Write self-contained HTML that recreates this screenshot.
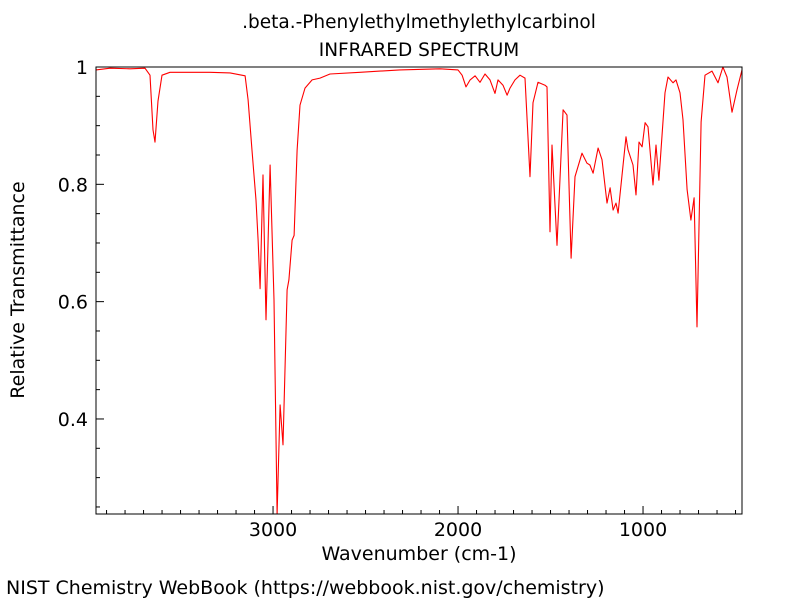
<!DOCTYPE html>
<html><head><meta charset="utf-8"><style>
body{margin:0;background:#fff;width:800px;height:600px;overflow:hidden;font-family:"DejaVu Sans","Liberation Sans",sans-serif}
</style></head><body>
<svg id="chart" width="800" height="600" xmlns="http://www.w3.org/2000/svg" font-family="DejaVu Sans, Liberation Sans, sans-serif">
<text x="419" y="28" font-size="18.5" text-anchor="middle">.beta.-Phenylethylmethylethylcarbinol</text>
<text x="419" y="56" font-size="18.5" text-anchor="middle">INFRARED SPECTRUM</text>
<g id="axes"></g>
<text x="419" y="560" font-size="19" text-anchor="middle">Wavenumber (cm-1)</text>
<text transform="translate(24,290) rotate(-90)" font-size="19" text-anchor="middle">Relative Transmittance</text>
<text x="6" y="594" font-size="19">NIST Chemistry WebBook (https://webbook.nist.gov/chemistry)</text>
</svg>
<script>
const wavenumbers=[3957,3881,3773,3692,3665,3649,3638,3622,3600,3557,3449,3341,3232,3151,3135,3114,3092,3081,3070,3054,3038,3016,2995,2978,2962,2946,2924,2914,2897,2886,2870,2854,2827,2789,2746,2692,2530,2314,2097,2000,1978,1957,1935,1908,1881,1854,1827,1800,1784,1757,1735,1719,1692,1665,1638,1611,1595,1568,1530,1519,1503,1492,1465,1432,1411,1389,1368,1330,1303,1287,1270,1243,1222,1195,1178,1162,1146,1135,1092,1081,1054,1038,1022,1005,989,973,946,930,914,881,865,838,822,800,784,762,741,724,708,686,665,627,595,568,546,519,492,465];
const transmittance=[0.995,0.998,0.997,0.998,0.986,0.893,0.872,0.942,0.986,0.991,0.991,0.991,0.990,0.985,0.944,0.858,0.773,0.705,0.622,0.816,0.569,0.833,0.603,0.238,0.424,0.356,0.620,0.637,0.705,0.713,0.858,0.935,0.964,0.978,0.981,0.988,0.991,0.995,0.997,0.995,0.986,0.966,0.978,0.985,0.974,0.988,0.978,0.955,0.978,0.969,0.952,0.964,0.978,0.986,0.981,0.813,0.939,0.974,0.969,0.966,0.719,0.867,0.696,0.927,0.918,0.674,0.813,0.853,0.836,0.833,0.819,0.862,0.842,0.768,0.794,0.756,0.768,0.751,0.881,0.859,0.833,0.782,0.872,0.864,0.905,0.898,0.799,0.867,0.807,0.956,0.983,0.973,0.978,0.956,0.910,0.791,0.739,0.777,0.557,0.906,0.986,0.993,0.973,1.000,0.983,0.923,0.961,0.995];
const xTickValues=[3000,2000,1000];
const xTickLabels=["3000","2000","1000"];
const yTickValues=[1,0.8,0.6,0.4];
const yTickLabels=["1","0.8","0.6","0.4"];
const X0=96,X1=742,Y0=67,Y1=514,WMAX=3957,WMIN=465,TMIN=0.238,TMAX=1.0;
const sx=w=>X0+(WMAX-w)/(WMAX-WMIN)*(X1-X0);
const sy=t=>Y1-(t-TMIN)/(TMAX-TMIN)*(Y1-Y0);
const NS="http://www.w3.org/2000/svg";
const g=document.getElementById('axes');
function mk(tag,attrs){const e=document.createElementNS(NS,tag);for(const k in attrs)e.setAttribute(k,attrs[k]);g.appendChild(e);return e;}
let d=wavenumbers.map((w,i)=>(i?'L':'M')+sx(w).toFixed(1)+','+sy(transmittance[i]).toFixed(1)).join('');
const line=mk('path',{d:d,fill:'none',stroke:'#ff0000','stroke-width':1.1,'stroke-linejoin':'round'});


const fr=mk('rect',{x:X0,y:Y0,width:X1-X0,height:Y1-Y0,fill:'none',stroke:'#000','stroke-width':1});


for(let w=500;w<=3900;w+=100){const major=w%1000===0;const t=mk('line',{x1:sx(w),x2:sx(w),y1:Y1,y2:Y1-(major?8:4),stroke:'#000'});

}
xTickValues.forEach((v,i)=>{const t=mk('text',{x:sx(v),y:Y1+22,'font-size':19,'text-anchor':'middle'});t.textContent=xTickLabels[i];

});
for(let k=5;k<=20;k++){const v=k*0.05;if(v<TMIN)continue;const major=k%4===0;const t=mk('line',{x1:X0,x2:X0+(major?8:4),y1:sy(v),y2:sy(v),stroke:'#000'});

}
yTickValues.forEach((v,i)=>{const t=mk('text',{x:X0-8,y:sy(v)+7,'font-size':19,'text-anchor':'end'});t.textContent=yTickLabels[i];

});
</script>
</body></html>
